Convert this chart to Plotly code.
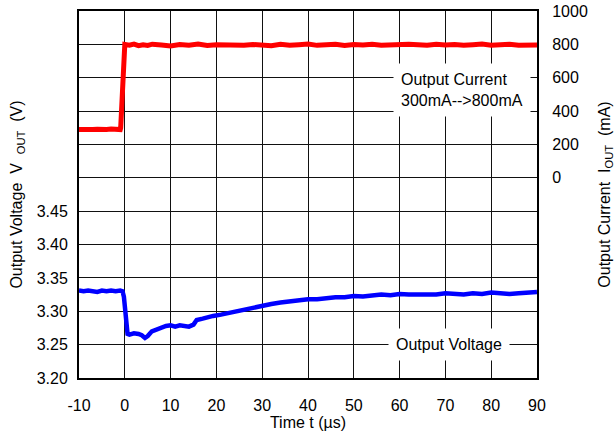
import plotly.graph_objects as go

# Output voltage trace (time in µs, volts)
t_v = [-10, -9, -8, -7, -6, -5, -4, -3, -2, -1, -0.5, -0.2, 0.2, 0.6, 1, 2, 3, 3.7, 4.4, 5, 5.9,
       7, 8, 9, 10, 11, 12, 13, 14, 15, 15.7, 17, 18, 19.3, 21, 23, 25, 26.6, 28, 30, 32, 34, 36,
       38, 40, 42, 44, 46, 48, 50, 52, 54, 56, 58, 60, 62, 64, 66, 68, 70, 72, 74, 76, 78, 80,
       82, 84, 86, 88, 90]
v_out = [3.331, 3.330, 3.331, 3.330, 3.329, 3.331, 3.330, 3.331, 3.330, 3.331, 3.330, 3.322, 3.285,
         3.266, 3.265, 3.267, 3.266, 3.264, 3.260, 3.263, 3.270, 3.273, 3.277, 3.278, 3.279, 3.277,
         3.279, 3.278, 3.277, 3.280, 3.287, 3.289, 3.291, 3.293, 3.295, 3.298, 3.300, 3.304, 3.306,
         3.309, 3.311, 3.313, 3.315, 3.317, 3.318, 3.318, 3.320, 3.321, 3.321, 3.323, 3.322, 3.324,
         3.325, 3.324, 3.326, 3.325, 3.325, 3.326, 3.325, 3.327, 3.326, 3.325, 3.327, 3.326, 3.328,
         3.327, 3.326, 3.327, 3.328, 3.329]

# Output current trace (time in µs, mA)
t_i = [-10, -9, -8, -7, -6, -5, -4, -3, -2, -1.5, -1, -0.9, -0.6, -0.3, 0, 1, 2, 3, 4, 5, 6, 8, 10,
       12, 14, 16, 18, 20, 22, 24, 26, 28, 30, 32, 34, 36, 38, 40, 42, 44, 46, 48, 50, 52, 54, 56,
       58, 60, 62, 64, 66, 68, 70, 72, 74, 76, 78, 80, 82, 84, 86, 88, 90]
i_out = [290, 288, 292, 289, 291, 287, 290, 292, 288, 291, 289, 300, 480, 700, 800, 795, 802, 792,
         798, 794, 801, 796, 790, 799, 795, 802, 793, 798, 796, 800, 794, 799, 797, 792, 801, 795,
         798, 802, 794, 797, 800, 793, 799, 796, 801, 795, 798, 794, 800, 797, 795, 801, 796, 799,
         794, 798, 802, 795, 797, 800, 794, 798, 796]

x_ticks = [-10, 0, 10, 20, 30, 40, 50, 60, 70, 80, 90]
x_labels = ["-10", "0", "10", "20", "30", "40", "50", "60", "70", "80", "90"]
v_grid = [3.20, 3.25, 3.30, 3.35, 3.40, 3.45, 3.50, 3.55, 3.60, 3.65, 3.70, 3.75]
v_labels = ["3.20", "3.25", "3.30", "3.35", "3.40", "3.45", "", "", "", "", "", ""]
i_ticks = [0, 200, 400, 600, 800, 1000]

FONT = "Liberation Sans, Arial, sans-serif"
SP = "&nbsp;"

fig = go.Figure()
fig.add_trace(go.Scatter(x=t_v, y=v_out, mode="lines", line=dict(color="#0000ff", width=4.5),
                         yaxis="y", showlegend=False))
fig.add_trace(go.Scatter(x=t_i, y=i_out, mode="lines", line=dict(color="#ff0000", width=5),
                         yaxis="y2", showlegend=False))

fig.update_layout(
    width=615, height=444,
    margin=dict(l=79, r=78, t=11, b=66, autoexpand=False),
    paper_bgcolor="white", plot_bgcolor="white",
    font=dict(family=FONT, size=16, color="black"),
    xaxis=dict(range=[-10, 90], tickvals=x_ticks, ticktext=x_labels, showgrid=True,
               gridcolor="#111", gridwidth=1, automargin=False, ticklabelstandoff=12,
               showline=True, linecolor="black", linewidth=2, mirror=True, ticks="",
               zeroline=False, title=dict(text="Time t (µs)", standoff=4, font=dict(size=16))),
    yaxis=dict(range=[3.20, 3.75], tickvals=v_grid, ticktext=v_labels, showgrid=True,
               gridcolor="#111", gridwidth=1, showline=True, linecolor="black", linewidth=2,
               ticks="", zeroline=False, automargin=False, ticklabelstandoff=6,
               title=dict(text="Output Voltage" + SP * 2 + "V" + SP * 2 + "<sub>OUT</sub>" + SP * 2 + "(V)",
                          standoff=10, font=dict(size=16))),
    yaxis2=dict(range=[-1200, 1000], tickvals=i_ticks, overlaying="y", side="right",
                showgrid=False, showline=True, linecolor="black", linewidth=2, ticks="",
                zeroline=False, automargin=False, ticklabelstandoff=10, ticklabeloverflow="allow",
                title=dict(text="Output Current" + SP * 2 + "I<sub>OUT</sub>" + SP * 2 + "(mA)",
                           standoff=15, font=dict(size=16))),
    annotations=[
        dict(x=58.6, y=3.631, xref="x", yref="y", xanchor="left", yanchor="middle",
             text="Output Current<br>300mA-->800mA", showarrow=False, align="left",
             bgcolor="white", borderpad=7, font=dict(size=16)),
        dict(x=70.8, y=3.25, xref="x", yref="y", xanchor="center", yanchor="middle",
             text="Output Voltage", showarrow=False, bgcolor="white", borderpad=7,
             font=dict(size=16)),
    ],
)

fig.write_html("out.html", config={"displayModeBar": False},
               post_script="document.body.style.margin='0';")
